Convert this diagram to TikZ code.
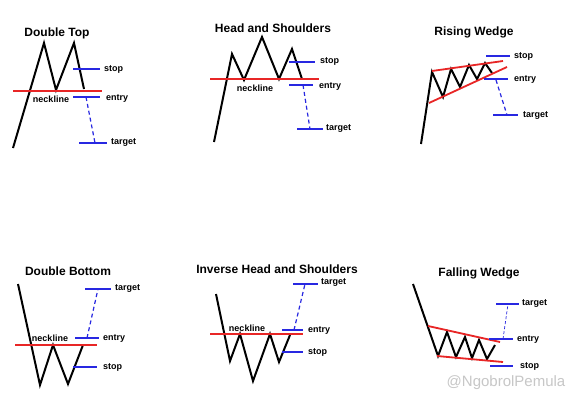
\documentclass[tikz,border=0pt]{standalone}
\usepackage{fontspec}
\setmainfont{Liberation Sans}
\usetikzlibrary{positioning, calc}
\definecolor{necklinered}{RGB}{232,38,38}
\definecolor{levelblue}{RGB}{40,40,225}

\begin{document}
\begin{tikzpicture}[
    x=1pt, y=-1pt,
    price/.style={draw=black, line width=2pt, line join=miter},
    neck/.style={draw=necklinered, line width=1.8pt},
    level/.style={draw=levelblue, line width=1.4pt},
    move/.style={draw=levelblue, line width=1.2pt, dash pattern=on 4pt off 3pt},
    title/.style={font=\bfseries\fontsize{12}{14}\selectfont},
    lbl/.style={anchor=west, inner sep=1pt, font=\bfseries\fontsize{9}{11}\selectfont}
]
\useasboundingbox[fill=white] (0,0) rectangle (577,412);

\node[title] (DTtitle) at (57,33) {Double Top};
\draw[price] (13,148) -- (44,43) -- (56,90) -- (74,43) -- (84,89);
\draw[neck] (13,91) -- (102,91);
\node[lbl, anchor=center] (DTneck) at (51,99) {neckline};
\draw[level] (73,69) -- (100,69);
\node[lbl] (DTstop) at (103,69) {stop};
\draw[level] (73,97) -- (100,97);
\node[lbl] (DTentry) at (105,98) {entry};
\draw[level] (79,143) -- (107,143);
\node[lbl] (DTtarget) at (110,143) {target};
\draw[move] (86,97) -- (95,143);

\node[title] (HStitle) at (273,28) {Head and Shoulders};
\draw[price] (214,142) -- (232,54) -- (244,80) -- (262,37) -- (279,79) -- (292,49) -- (302,79);
\draw[neck] (210,79) -- (319,79);
\node[lbl, anchor=center] (HSneck) at (255,88) {neckline};
\draw[level] (289,62) -- (315,62);
\node[lbl] (HSstop) at (319,61) {stop};
\draw[level] (289,85) -- (313,85);
\node[lbl] (HSentry) at (318,86) {entry};
\draw[level] (297,129) -- (323,129);
\node[lbl] (HStarget) at (325,129) {target};
\draw[move] (303,85) -- (310,129);

\node[title] (RWtitle) at (474,32) {Rising Wedge};
\draw[price] (421,144) -- (432,72) -- (443,97) -- (451,69) -- (460,87) -- (469,65) -- (477,79) -- (485,63) -- (492,73);
\draw[neck] (432,71) -- (503,61);
\draw[neck] (429,103) -- (507,67);
\draw[level] (486,56) -- (510,56);
\node[lbl] (RWstop) at (513,56) {stop};
\draw[level] (484,79) -- (508,79);
\node[lbl] (RWentry) at (513,79) {entry};
\draw[level] (493,115) -- (518,115);
\node[lbl] (RWtarget) at (522,116) {target};
\draw[move] (496,80) -- (507,115);

\node[title] (DBtitle) at (68,271) {Double Bottom};
\draw[price] (18,284) -- (40,385) -- (53,345) -- (68,384) -- (83,345);
\draw[neck] (15,345) -- (97,345);
\node[lbl, anchor=center] (DBneck) at (50,338) {neckline};
\draw[level] (85,289) -- (111,289);
\node[lbl] (DBtarget) at (114,289) {target};
\draw[level] (75,338) -- (99,338);
\node[lbl] (DBentry) at (102,338) {entry};
\draw[level] (73,367) -- (97,367);
\node[lbl] (DBstop) at (102,367) {stop};
\draw[move] (87,338) -- (98,289);

\node[title] (IHtitle) at (277,269) {Inverse Head and Shoulders};
\draw[price] (216,294) -- (230,361) -- (240,334) -- (253,381) -- (270,334) -- (279,362) -- (290,335);
\draw[neck] (210,334) -- (303,334);
\node[lbl, anchor=center] (IHneck) at (247,328) {neckline};
\draw[level] (293,284) -- (318,284);
\node[lbl] (IHtarget) at (320,283) {target};
\draw[level] (282,330) -- (303,330);
\node[lbl] (IHentry) at (307,330) {entry};
\draw[level] (282,352) -- (303,352);
\node[lbl] (IHstop) at (307,352) {stop};
\draw[move] (294,330) -- (305,284);

\node[title] (FWtitle) at (479,273) {Falling Wedge};
\draw[price] (413,284) -- (438,356) -- (447,332) -- (456,357) -- (465,337) -- (472,358) -- (479,340) -- (487,359) -- (495,345);
\draw[neck] (428,326) -- (500,342);
\draw[neck] (437,356) -- (503,362);
\draw[level] (496,304) -- (519,304);
\node[lbl] (FWtarget) at (521,304) {target};
\draw[level] (489,339) -- (513,339);
\node[lbl] (FWentry) at (516,339) {entry};
\draw[level] (490,366) -- (513,366);
\node[lbl] (FWstop) at (519,366) {stop};
\draw[levelblue, line width=0.7pt, dash pattern=on 3pt off 2pt] (503,339) -- (508,304);

\node[text=black!22, font=\fontsize{15}{17}\selectfont, inner sep=0pt] (mark) at (506,383) {@NgobrolPemula};
\end{tikzpicture}
\end{document}
